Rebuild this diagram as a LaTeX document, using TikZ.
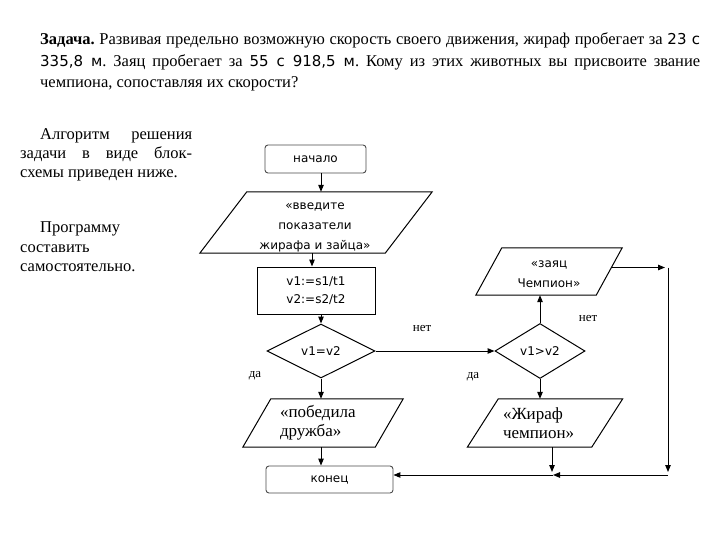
\documentclass[tikz,border=0pt]{standalone}
\usepackage{fontspec}
\setmainfont{Liberation Serif}
\newfontfamily\sansf{DejaVu Sans}
\usetikzlibrary{shapes.geometric,arrows.meta,calc}
\frenchspacing

\tikzset{
  shp/.style={draw=black, line width=1pt},
  arr/.style={draw=black, line width=1pt, -{Triangle[length=7pt,width=5.5pt]}},
  termbox/.style={draw=black!70, line width=0.9pt, rounded corners=3pt, inner sep=0pt,
    font=\sansf\fontsize{12}{14}\selectfont},
  procbox/.style={shp, inner sep=0pt, align=center, font=\sansf\fontsize{12}{18}\selectfont},
  decbox/.style={shp, diamond, inner sep=0pt, aspect=2, font=\sansf\fontsize{12}{14}\selectfont},
  parabox/.style={inner sep=0pt},
  parasans/.style={inner sep=0pt, align=center, font=\sansf\fontsize{12}{20}\selectfont},
  paraserif/.style={inner sep=0pt, align=left, font=\fontsize{17}{19}\selectfont},
  lbl/.style={font=\fontsize{13}{15}\selectfont, inner sep=0pt},
  bodytext/.style={inner sep=0pt, anchor=base west, font=\fontsize{16.5}{20}\selectfont},
}
\newcommand\parashape[2]{\draw[shp] (#1.south west) -- ([xshift=#2]#1.north west) -- (#1.north east) -- ([xshift=-#2]#1.south east) -- cycle;}
\newcommand\numf{\sansf\fontsize{15}{20}\selectfont}

\begin{document}
\begin{tikzpicture}[x=1pt,y=-1pt]
\useasboundingbox[fill=white] (0,0) rectangle (720,540);

% problem text
\node[bodytext] (t1) at (40,45) {\makebox[660pt][s]{\textbf{Задача.} Развивая предельно возможную скорость своего движения, жираф пробегает за {\numf 23 с}}};
\node[bodytext] (t2) at (40,67) {\makebox[660pt][s]{{\numf 335,8 м}. Заяц пробегает за {\numf 55 с 918,5 м}. Кому из этих животных вы присвоите звание}};
\node[bodytext] (t3) at (40,88) {чемпиона, сопоставляя их скорости?};

% left text
\node[bodytext] (l1) at (40,140) {\makebox[152pt][s]{Алгоритм решения}};
\node[bodytext] (l2) at (20,159) {\makebox[172pt][s]{задачи в виде блок-}};
\node[bodytext] (l3) at (20,178) {схемы приведен ниже.};
\node[bodytext] (l4) at (40,233) {Программу};
\node[bodytext] (l5) at (20,252) {составить};
\node[bodytext] (l6) at (20,271) {самостоятельно.};

% flowchart nodes
\node[termbox, minimum width=101pt, minimum height=28pt] (start) at (315.5,159) {начало};
\node[parabox, minimum width=232pt, minimum height=61pt] (inp) at (316,222.5) {};
\parashape{inp}{47pt}
\node[parasans] (inptxt) at (315,227) {«введите\\показатели\\жирафа и зайца»};
\node[procbox, minimum width=118pt, minimum height=47pt] (calc) at (316,290.5) {v1:=s1/t1\\v2:=s2/t2};
\node[decbox, minimum width=108pt, minimum height=54pt] (d1) at (321,351) {v1=v2};
\node[paraserif, text width=86pt, minimum width=160pt, minimum height=48pt] (win) at (323,423) {«победила\\дружба»};
\parashape{win}{28pt}
\node[termbox, minimum width=127pt, minimum height=27pt] (stop) at (329.5,479.5) {конец};

\node[decbox, minimum width=90pt, minimum height=55pt] (d2) at (540,351) {v1>v2};
\node[parabox, minimum width=146pt, minimum height=47pt] (hare) at (549,271.5) {};
\parashape{hare}{26pt}
\node[parasans] (haretxt) at (549,274) {«заяц\\Чемпион»};
\node[paraserif, text width=84pt, minimum width=155pt, minimum height=48pt] (gir) at (545,423) {«Жираф\\чемпион»};
\parashape{gir}{31pt}

% labels
\node[lbl] (no1) at (422,328) {нет};
\node[lbl] (yes1) at (255,376) {да};
\node[lbl] (no2) at (588,318) {нет};
\node[lbl] (yes2) at (473,377) {да};

% helper coordinates
\coordinate (cx) at (321,0);
\coordinate (cy) at (312,0);
\coordinate (gx) at (552,0);
\coordinate (rc) at (668,267.5);
\coordinate (rb) at (668,475);
\coordinate (mid) at (553,475);

% connectors
\draw[arr] (start.south -| cx) -- (inp.north -| cx);
\draw[arr] (inp.south -| cy) -- (calc.north -| cy);
\draw[arr] (calc.south -| cx) -- (d1.north -| cx);
\draw[arr] (d1.south -| cx) -- (win.north -| cx);
\draw[arr] (win.south -| cx) -- (stop.north -| cx);
\draw[arr] (d1.east) -- (d2.west);
\draw[arr] (d2.north) -- (d2.north |- hare.south);
\draw[arr] (d2.south) -- (d2.south |- gir.north);
\draw[arr] ([xshift=-11pt,yshift=4pt]hare.east) -- ([xshift=-3pt]rc);
\draw[arr] (rc) -- ([yshift=3pt]rb);
\draw[arr] (gir.south -| gx) -- ([yshift=3pt]gx |- rb);
\draw[arr] (rb) -- (mid);
\draw[arr] (mid) -- (stop.east |- rb);
\end{tikzpicture}
\end{document}
